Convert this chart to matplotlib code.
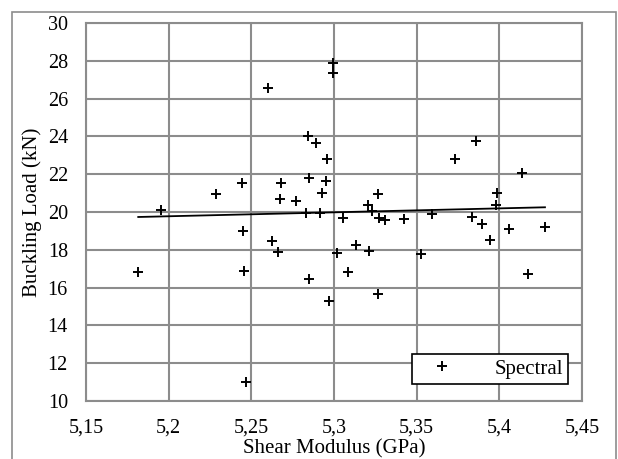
import numpy as np
import matplotlib
matplotlib.use("Agg")
import matplotlib.pyplot as plt
from matplotlib.patches import Rectangle
from matplotlib.ticker import FuncFormatter

# shear modulus (GPa) and buckling load (kN)
shear = np.array([5.1816, 5.1954, 5.2286, 5.2446, 5.2452, 5.2458, 5.2468, 5.2599,
                  5.2627, 5.2663, 5.2673, 5.2680, 5.2772, 5.2829, 5.2845, 5.2847,
                  5.2849, 5.2889, 5.2913, 5.2929, 5.2950, 5.2960, 5.2972, 5.2996,
                  5.2996, 5.3016, 5.3054, 5.3085, 5.3135, 5.3205, 5.3214, 5.3228,
                  5.3264, 5.3268, 5.3274, 5.3308, 5.3423, 5.3528, 5.3595, 5.3732,
                  5.3836, 5.3857, 5.3893, 5.3944, 5.3980, 5.3984, 5.4061, 5.4135,
                  5.4175, 5.4276])
load = np.array([16.84, 20.10, 20.94, 21.52, 19.00, 16.89, 11.02, 26.54,
                 18.47, 17.90, 20.70, 21.55, 20.57, 19.93, 24.02, 16.44,
                 21.80, 23.63, 19.96, 20.99, 21.64, 22.79, 15.31, 27.87,
                 27.34, 17.85, 19.70, 16.84, 18.25, 20.35, 17.92, 20.05,
                 15.65, 20.95, 19.67, 19.58, 19.63, 17.76, 19.89, 22.79,
                 19.75, 23.77, 19.37, 18.52, 20.37, 21.02, 19.10, 22.05,
                 16.70, 19.19])

xticks = [5.15, 5.2, 5.25, 5.3, 5.35, 5.4, 5.45]
yticks = [10, 12, 14, 16, 18, 20, 22, 24, 26, 28, 30]

plt.rcParams['font.family'] = ['Liberation Serif', 'DejaVu Serif']
fs = 14.5

fig = plt.figure(figsize=(6.18, 4.59), dpi=100)
ax = fig.add_axes([86/618, 58/459, 496/618, 378/459])

# excel-like outer chart frame
fig.patches.append(Rectangle((12/618, -0.1), 604/618, 1.1 - 12/459,
                             transform=fig.transFigure, fill=False,
                             edgecolor='#8c8c8c', lw=1.2))

ax.plot(shear, load, '+', color='black', ms=7, mew=1.4, label='Spectral')

# linear trendline
coef = np.polyfit(shear, load, 1)
xx = np.array([shear.min(), shear.max()])
ax.plot(xx, np.polyval(coef, xx), color='black', lw=1.3)

ax.set_xlim(5.15, 5.45)
ax.set_ylim(10, 30)
ax.set_xticks(xticks)
ax.set_yticks(yticks)
ax.xaxis.set_major_formatter(FuncFormatter(lambda v, p: f"{v:g}".replace('.', ',')))
ax.tick_params(length=0, labelsize=fs, colors='black')
ax.tick_params(axis='y', pad=13)
ax.tick_params(axis='x', pad=12.5)
ax.grid(True, color='#8c8c8c', lw=1.5)
ax.set_axisbelow(True)
for s in ax.spines.values():
    s.set_color('#8c8c8c')
    s.set_linewidth(1.5)

ax.set_xlabel('Shear Modulus (GPa)', fontsize=15, labelpad=1.5)
ax.set_ylabel('Buckling Load (kN)', fontsize=15, labelpad=4)

leg = ax.legend(loc='lower right', bbox_to_anchor=(0.972, 0.045), fontsize=15,
                fancybox=False, framealpha=1, edgecolor='black',
                borderpad=0.25, handletextpad=1.3, borderaxespad=0,
                handlelength=2.4)
leg.get_frame().set_linewidth(1.2)

fig.savefig('out.png', dpi=100)
